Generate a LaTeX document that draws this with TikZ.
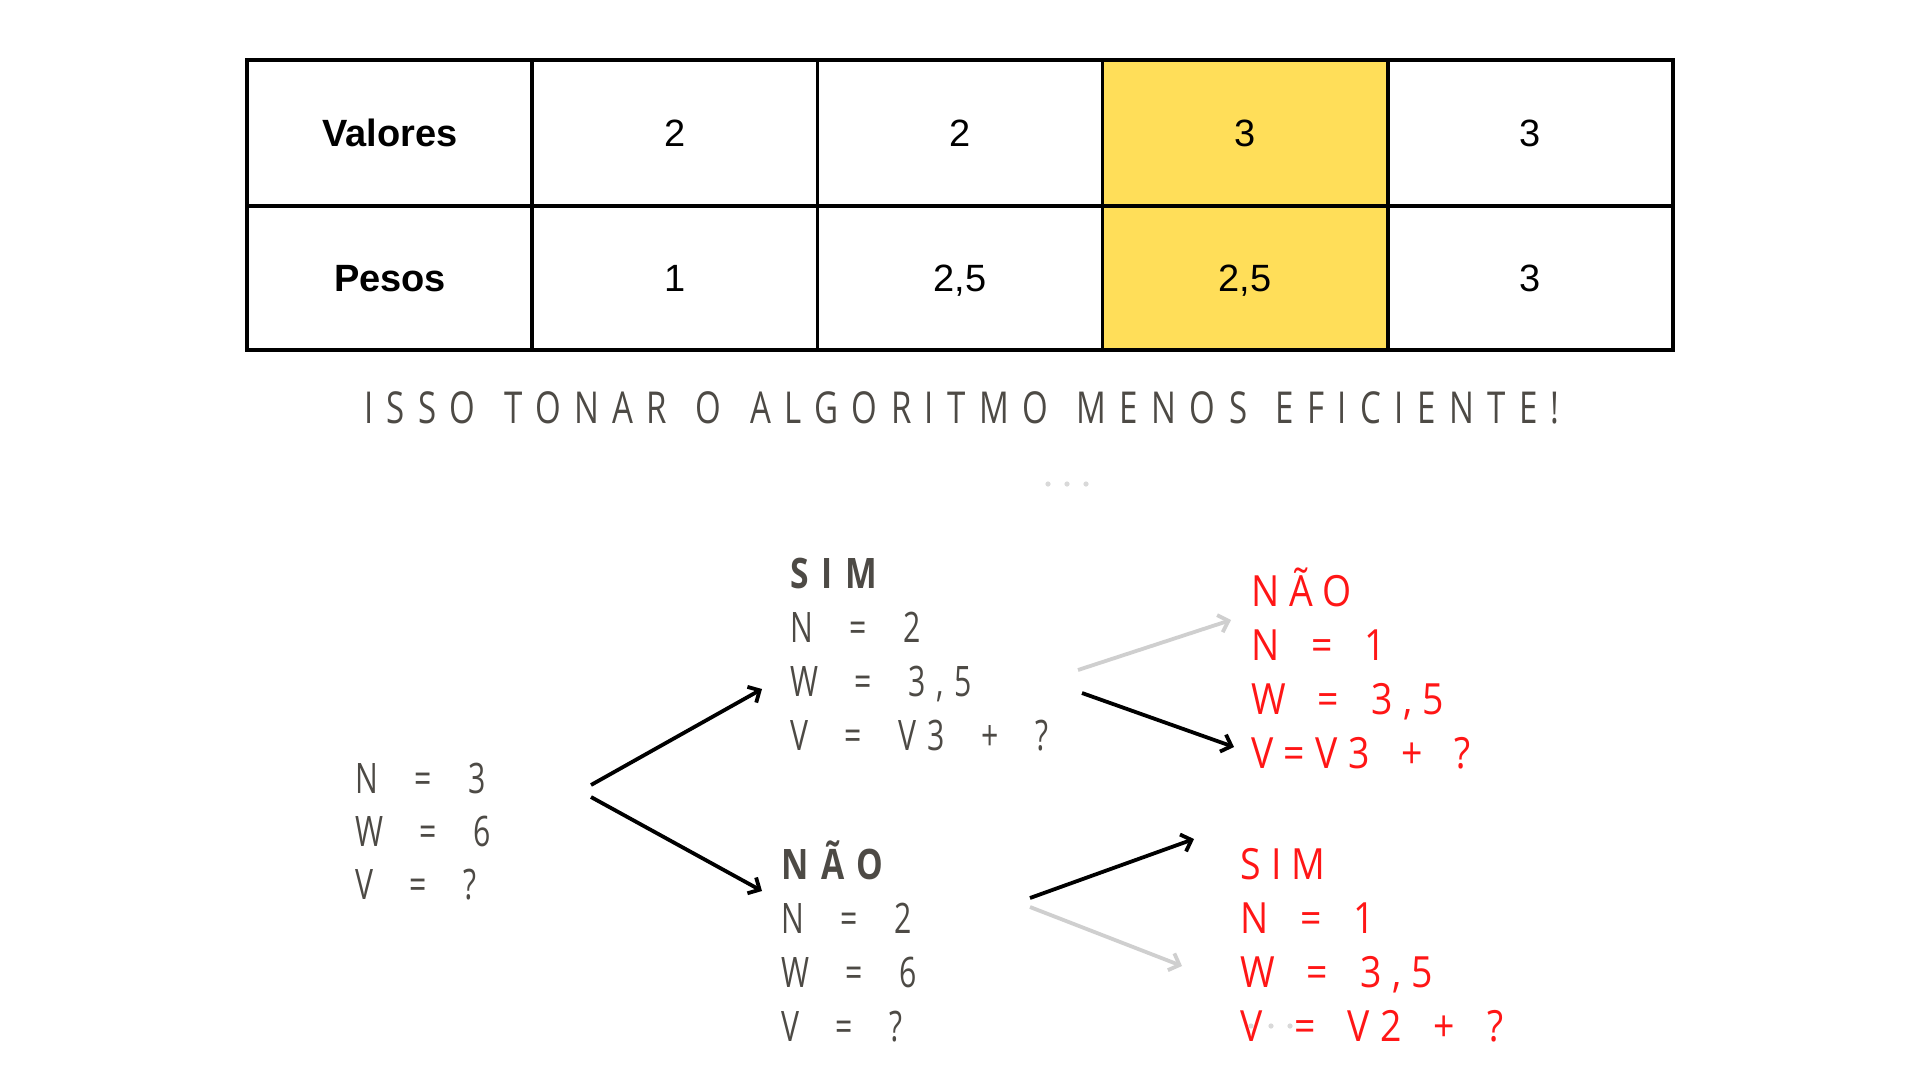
\documentclass[tikz,border=0pt]{standalone}
\usepackage{fontspec}
\setmainfont{Liberation Sans}
\newfontfamily\treefont[FakeStretch=0.72,LetterSpace=25,WordSpace=2.0]{Open Sans}
\newfontfamily\treebold[FakeStretch=0.8,LetterSpace=30,WordSpace=2.0]{Open Sans Bold}
\newfontfamily\redfont[FakeStretch=0.87,LetterSpace=24,WordSpace=1.6]{Open Sans}
\newfontfamily\headfont[FakeStretch=0.75,LetterSpace=30.5,WordSpace=1.3]{Open Sans}
\usetikzlibrary{arrows.meta}
\definecolor{ink}{HTML}{4D4A45}
\definecolor{hl}{HTML}{FFDE59}
\definecolor{redtxt}{HTML}{FF1616}
\definecolor{lgray}{HTML}{CFCFCF}
\definecolor{dotgray}{HTML}{D9D9D9}
\tikzset{
  cell/.style={anchor=base, inner sep=0, font=\fontsize{38}{44}\selectfont, text=black},
  hcell/.style={cell, font=\bfseries\fontsize{38}{44}\selectfont},
  tline/.style={anchor=base west, inner sep=0, font=\treefont\fontsize{42}{50}\selectfont, text=ink},
  tbold/.style={tline, font=\treebold\fontsize{42}{50}\selectfont},
  rline/.style={anchor=base west, inner sep=0, font=\redfont\fontsize{43}{50}\selectfont, text=redtxt},
  grid/.style={line width=3.5pt, draw=black},
  blackarrow/.style={line width=3.8pt, draw=black, -{Straight Barb[length=9pt,width=18pt]}},
  grayarrow/.style={line width=3.8pt, draw=lgray, -{Straight Barb[length=9pt,width=18pt]}},
}
\begin{document}
\begin{tikzpicture}[x=1pt,y=-1pt]
\useasboundingbox[fill=white] (0,0) rectangle (1920,1080);
% table
\fill[hl] (1102.6,60) rectangle (1387.8,350);
\draw[grid] (247,60) rectangle (1673,350);
\draw[grid] (247,206) -- (1673,206);
\foreach \x in {532.2,817.4,1102.6,1387.8} \draw[grid] (\x,60) -- (\x,350);
\node[hcell] (h1) at (390,146.6) {Valores};
\node[hcell] (h2) at (390,291.6) {Pesos};
\node[cell] (v1) at (674.8,146.6) {2};
\node[cell] (v2) at (960,146.6) {2};
\node[cell] (v3) at (1245.2,146.6) {3};
\node[cell] (v4) at (1530.4,146.6) {3};
\node[cell] (p1) at (674.8,291.6) {1};
\node[cell] (p2) at (960,291.6) {2,5};
\node[cell] (p3) at (1245.2,291.6) {2,5};
\node[cell] (p4) at (1530.4,291.6) {3};
% heading
\node[inner sep=0, font=\headfont\fontsize{44}{52}\selectfont, text=ink] (head) at (962,408) {ISSO TONAR O ALGORITMO MENOS EFICIENTE!};
\foreach \x in {1048,1067,1086} \fill[dotgray] (\x,484) circle (2.6pt);
% root
\node[tline] (r1) at (355,793) {N = 3};
\node[tline] (r2) at (355,846) {W = 6};
\node[tline] (r3) at (355,899) {V = ?};
% SIM
\node[tbold] (s0) at (790,588) {SIM};
\node[tline] (s1) at (790,642) {N = 2};
\node[tline] (s2) at (790,696) {W = 3,5};
\node[tline] (s3) at (790,750) {V = V3 + ?};
% NAO
\node[tbold] (n0) at (781,879) {NÃO};
\node[tline] (n1) at (781,933) {N = 2};
\node[tline] (n2) at (781,987) {W = 6};
\node[tline] (n3) at (781,1041) {V = ?};
% red top
\node[rline] (a0) at (1251,606) {NÃO};
\node[rline] (a1) at (1251,660) {N = 1};
\node[rline] (a2) at (1251,714) {W = 3,5};
\node[rline] (a3) at (1251,768) {V=V3 + ?};
% red bottom
\node[rline] (b0) at (1240,879) {SIM};
\node[rline] (b1) at (1240,933) {N = 1};
\node[rline] (b2) at (1240,987) {W = 3,5};
\node[rline] (b3) at (1240,1041) {V = V2 + ?};
\foreach \x in {1251,1271,1290} \fill[dotgray] (\x,1026) circle (2.6pt);
% arrow coordinates
\coordinate (rs0) at (591,785);  \coordinate (rs1) at (762,689);
\coordinate (rn0) at (591,797);  \coordinate (rn1) at (762,891);
\coordinate (sa0) at (1078,670); \coordinate (sa1) at (1231,620);
\coordinate (sb0) at (1082,693); \coordinate (sb1) at (1234,747);
\coordinate (na0) at (1030,898); \coordinate (na1) at (1194,839);
\coordinate (nb0) at (1030,907); \coordinate (nb1) at (1182,966);
\draw[blackarrow] (rs0) -- (rs1);
\draw[blackarrow] (rn0) -- (rn1);
\draw[grayarrow] (sa0) -- (sa1);
\draw[blackarrow] (sb0) -- (sb1);
\draw[blackarrow] (na0) -- (na1);
\draw[grayarrow] (nb0) -- (nb1);
\end{tikzpicture}
\end{document}
